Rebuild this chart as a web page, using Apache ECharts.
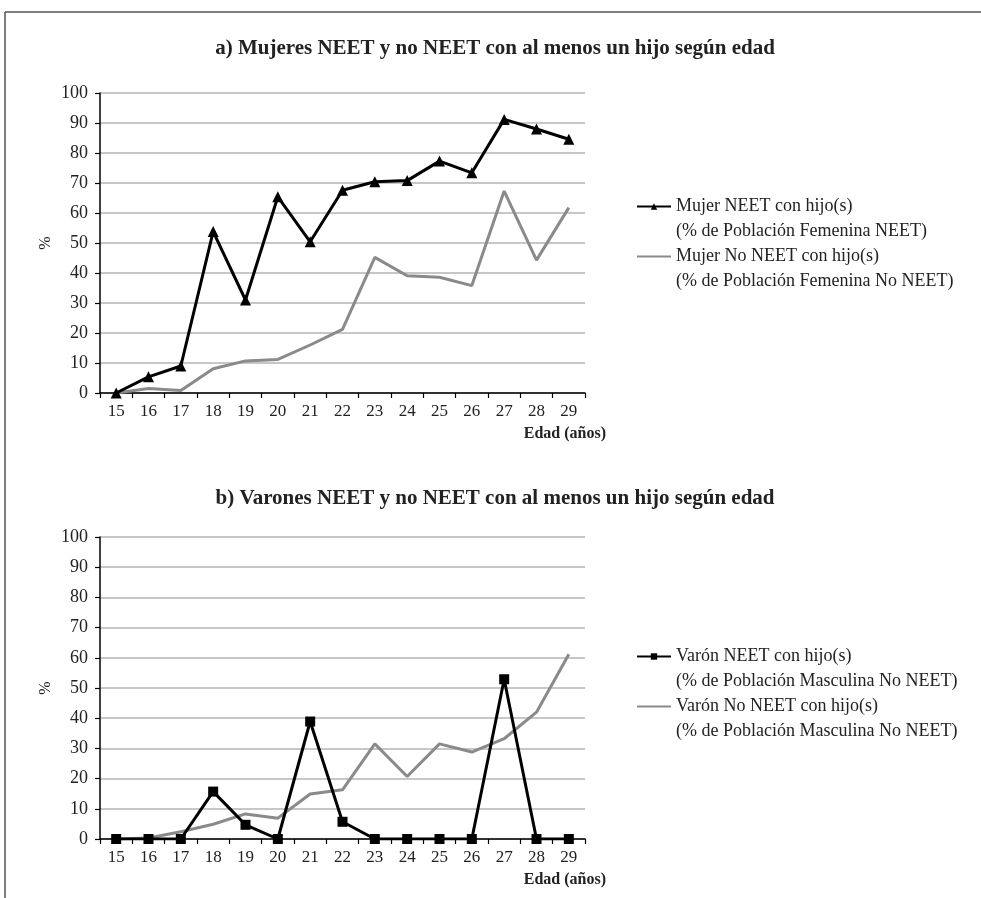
<!DOCTYPE html>
<html>
<head>
<meta charset="utf-8">
<script src="https://cdn.jsdelivr.net/npm/echarts@6/dist/echarts.min.js"></script>
<style>
html,body{margin:0;padding:0;background:#fff;}
#chart{width:981px;height:898px;}
</style>
</head>
<body>
<div id="chart"></div>
<script>
const edades = ['15','16','17','18','19','20','21','22','23','24','25','26','27','28','29'];
const yTicks = [0,10,20,30,40,50,60,70,80,90,100];

const tituloA = 'a) Mujeres NEET y no NEET con al menos un hijo según edad';
const tituloB = 'b) Varones NEET y no NEET con al menos un hijo según edad';

const mujerNeetNombre = 'Mujer NEET con hijo(s)\n(% de Población Femenina NEET)';
const mujerNoNeetNombre = 'Mujer No NEET con hijo(s)\n(% de Población Femenina No NEET)';
const varonNeetNombre = 'Varón NEET con hijo(s)\n(% de Población Masculina No NEET)';
const varonNoNeetNombre = 'Varón No NEET con hijo(s)\n(% de Población Masculina No NEET)';

const mujerNeet   = [0, 5.4, 9.0, 53.8, 31.0, 65.4, 50.4, 67.6, 70.4, 70.8, 77.3, 73.4, 91.2, 88.0, 84.6];
const mujerNoNeet = [0, 1.5, 0.8, 8.1, 10.7, 11.2, 16.0, 21.2, 45.2, 39.1, 38.6, 35.8, 67.3, 44.3, 61.8];
const varonNeet   = [0, 0, 0, 15.7, 4.7, 0, 38.9, 5.7, 0, 0, 0, 0, 52.9, 0, 0];
const varonNoNeet = [0, 0.3, 2.4, 4.9, 8.3, 6.9, 14.9, 16.3, 31.5, 20.7, 31.5, 28.8, 33.2, 42.0, 61.2];

const FONT = '"Liberation Serif", "DejaVu Serif", serif';
const BLACK = '#000000';
const GRAY = '#8a8a8a';

function xAxisCfg(gridIndex) {
  return {
    type: 'category', gridIndex: gridIndex, data: edades, boundaryGap: true,
    axisLine: { show: true, lineStyle: { color: '#000', width: 1.5 } },
    axisTick: { show: true, length: 5, lineStyle: { color: '#000', width: 1.2 } },
    axisLabel: { fontFamily: FONT, fontSize: 17, color: '#222', margin: 10 },
    name: 'Edad (años)', nameLocation: 'end', nameGap: 21,
    nameTextStyle: { fontFamily: FONT, fontSize: 16, fontWeight: 'bold', color: '#222', align: 'right', verticalAlign: 'top', padding: [33, 0, 0, 0] }
  };
}
function yAxisCfg(gridIndex) {
  return {
    type: 'value', gridIndex: gridIndex, min: 0, max: 100, interval: 10,
    axisLine: { show: true, lineStyle: { color: '#000', width: 1.5 } },
    axisTick: { show: true, length: 5, lineStyle: { color: '#000', width: 1.2 } },
    axisLabel: { fontFamily: FONT, fontSize: 18, color: '#222', margin: 12,
      formatter: function (v) { return yTicks.indexOf(v) >= 0 ? String(v) : ''; } },
    splitLine: { show: true, lineStyle: { color: '#b5b5b5', width: 1.5 } },
    name: '%', nameLocation: 'middle', nameRotate: 90, nameGap: 46,
    nameTextStyle: { fontFamily: FONT, fontSize: 16, color: '#222' }
  };
}

const legendText = { fontFamily: FONT, fontSize: 18, color: '#222', lineHeight: 25 };
function legendFmt(name) { return '\u00a0\n' + name; }
const hideMarker = { opacity: 0 };

const option = {
  backgroundColor: '#ffffff',
  animation: false,
  title: [
    { text: tituloA, left: 490, textAlign: 'center', top: 33,
      textStyle: { fontFamily: FONT, fontSize: 21, fontWeight: 'bold', color: '#222' } },
    { text: tituloB, left: 490, textAlign: 'center', top: 483,
      textStyle: { fontFamily: FONT, fontSize: 21, fontWeight: 'bold', color: '#222' } }
  ],
  legend: [
    { orient: 'vertical', left: 631, top: 164, itemGap: -25, itemWidth: 34, itemHeight: 8,
      data: [mujerNeetNombre, { name: mujerNoNeetNombre, itemStyle: hideMarker }],
      formatter: legendFmt, textStyle: legendText, selectedMode: false },
    { orient: 'vertical', left: 631, top: 614, itemGap: -25, itemWidth: 34, itemHeight: 8,
      data: [varonNeetNombre, { name: varonNoNeetNombre, itemStyle: hideMarker }],
      formatter: legendFmt, textStyle: legendText, selectedMode: false }
  ],
  grid: [
    { left: 100, top: 93, width: 485, height: 300 },
    { left: 100, top: 537, width: 485, height: 302 }
  ],
  xAxis: [xAxisCfg(0), xAxisCfg(1)],
  yAxis: [yAxisCfg(0), yAxisCfg(1)],
  graphic: [
    { type: 'line', shape: { x1: 5, y1: 12, x2: 981, y2: 12 }, style: { stroke: '#555', lineWidth: 1.5 } },
    { type: 'line', shape: { x1: 5, y1: 12, x2: 5, y2: 898 }, style: { stroke: '#555', lineWidth: 1.5 } }
  ],
  series: [
    { name: mujerNeetNombre, type: 'line', xAxisIndex: 0, yAxisIndex: 0, data: mujerNeet,
      symbol: 'triangle', symbolSize: 11, showAllSymbol: true,
      lineStyle: { color: BLACK, width: 3 }, itemStyle: { color: BLACK }, z: 3 },
    { name: mujerNoNeetNombre, type: 'line', xAxisIndex: 0, yAxisIndex: 0, data: mujerNoNeet,
      symbol: 'none', lineStyle: { color: GRAY, width: 3 }, itemStyle: { color: GRAY }, z: 2 },
    { name: varonNeetNombre, type: 'line', xAxisIndex: 1, yAxisIndex: 1, data: varonNeet,
      symbol: 'rect', symbolSize: 10, showAllSymbol: true,
      lineStyle: { color: BLACK, width: 3 }, itemStyle: { color: BLACK }, z: 3 },
    { name: varonNoNeetNombre, type: 'line', xAxisIndex: 1, yAxisIndex: 1, data: varonNoNeet,
      symbol: 'none', lineStyle: { color: GRAY, width: 3 }, itemStyle: { color: GRAY }, z: 2 }
  ]
};

const chart = echarts.init(document.getElementById('chart'), null, { renderer: 'canvas' });
chart.setOption(option);
</script>
</body>
</html>
